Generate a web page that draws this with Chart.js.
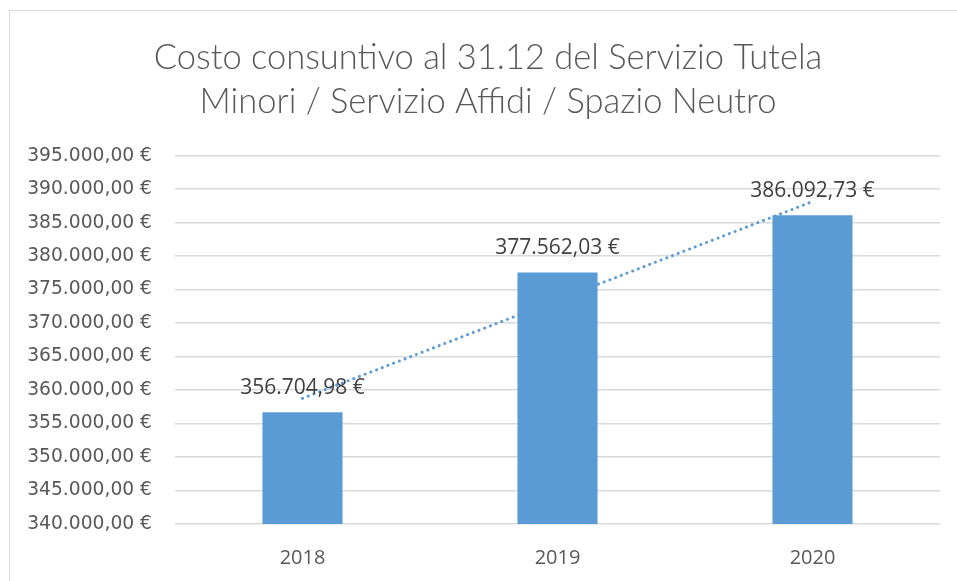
<!DOCTYPE html>
<html>
<head>
<meta charset="utf-8">
<script src="https://cdn.jsdelivr.net/npm/chart.js@4.4.1/dist/chart.umd.min.js"></script>
<style>
  html, body { margin: 0; padding: 0; background: #fff; overflow: hidden; }
  #box { position: absolute; left: 9px; top: 10px; width: 980px; height: 600px; border: 1px solid #d9d9d9; box-sizing: border-box; }
  #wrap { position: absolute; left: 9px; top: 10px; width: 958px; height: 590px; }
</style>
</head>
<body>
<div id="box"></div>
<div id="wrap"><canvas id="chart"></canvas></div>
<script>
// Dati del grafico
const titleLines = ['Costo consuntivo al 31.12 del Servizio Tutela', 'Minori / Servizio Affidi / Spazio Neutro'];
const years = ['2018', '2019', '2020'];
const costs = [356704.98, 377562.03, 386092.73];
const yMin = 340000;
const yMax = 395000;
const yStep = 5000;

// formato italiano: 356.704,98 €
function euro(v) {
    const parts = v.toFixed(2).split('.');
    const int = parts[0].replace(/\B(?=(\d{3})+(?!\d))/g, '.');
    return int + ',' + parts[1] + ' €';
}

// linea di tendenza lineare (minimi quadrati) calcolata dai valori
function trend(values) {
    const n = values.length;
    const xs = values.map((v, i) => i + 1);
    const mx = xs.reduce((a, b) => a + b, 0) / n;
    const my = values.reduce((a, b) => a + b, 0) / n;
    let num = 0, den = 0;
    xs.forEach((x, i) => { num += (x - mx) * (values[i] - my); den += (x - mx) * (x - mx); });
    const slope = num / den;
    return xs.map(x => my + slope * (x - mx));
}

// etichette sopra le barre
const barLabels = {
    id: 'barLabels',
    afterLayout(chart) {
        // titolo centrato su tutta la larghezza del riquadro
        const t = chart.titleBlock;
        t.left = 0;
        t.right = chart.width;
        t.width = chart.width;
    },
    afterDatasetsDraw(chart) {
        const ctx = chart.ctx;
        const meta = chart.getDatasetMeta(1);
        ctx.save();
        ctx.font = '21px "Open Sans", sans-serif';
        ctx.fillStyle = '#404040';
        ctx.textAlign = 'center';
        ctx.textBaseline = 'middle';
        meta.data.forEach((bar, i) => {
            ctx.fillText(euro(costs[i]), bar.x, bar.y - 24);
        });
        ctx.restore();
    }
};

const ctx = document.getElementById('chart').getContext('2d');
const chart = new Chart(ctx, {
    data: {
        labels: years,
        datasets: [{
            type: 'line',
            label: 'Lineare',
            data: trend(costs),
            borderColor: '#5b9bd5',
            borderWidth: 3,
            borderDash: [0.1, 6],
            borderCapStyle: 'round',
            pointRadius: 0,
            fill: false,
            order: 0
        }, {
            type: 'bar',
            label: 'Costo',
            data: costs,
            backgroundColor: '#5b9bd5',
            barPercentage: 0.314,
            categoryPercentage: 1,
            order: 1
        }]
    },
    options: {
        responsive: true,
        maintainAspectRatio: false,
        animation: false,
        layout: { padding: { left: 0, right: 27, top: 0, bottom: 16 } },
        plugins: {
            legend: { display: false },
            tooltip: { enabled: false },
            title: {
                display: true,
                text: titleLines,
                color: '#595959',
                font: { family: 'Lato', size: 34.5, weight: '300', lineHeight: 1.3 },
                padding: { top: 25, bottom: 31 }
            }
        },
        scales: {
            x: {
                grid: { display: false },
                border: { display: false },
                ticks: { color: '#595959', font: { family: '"Open Sans"', size: 20 }, padding: 14 }
            },
            y: {
                min: yMin,
                max: yMax,
                afterFit(scale) { scale.width = 166; },
                grid: { color: '#d9d9d9', lineWidth: 1.5, drawTicks: false },
                border: { display: false },
                ticks: {
                    stepSize: yStep,
                    padding: 23,
                    color: '#595959',
                    font: { family: '"DejaVu Sans"', size: 18.7 },
                    callback: v => euro(v)
                }
            }
        }
    },
    plugins: [barLabels]
});
</script>
</body>
</html>
